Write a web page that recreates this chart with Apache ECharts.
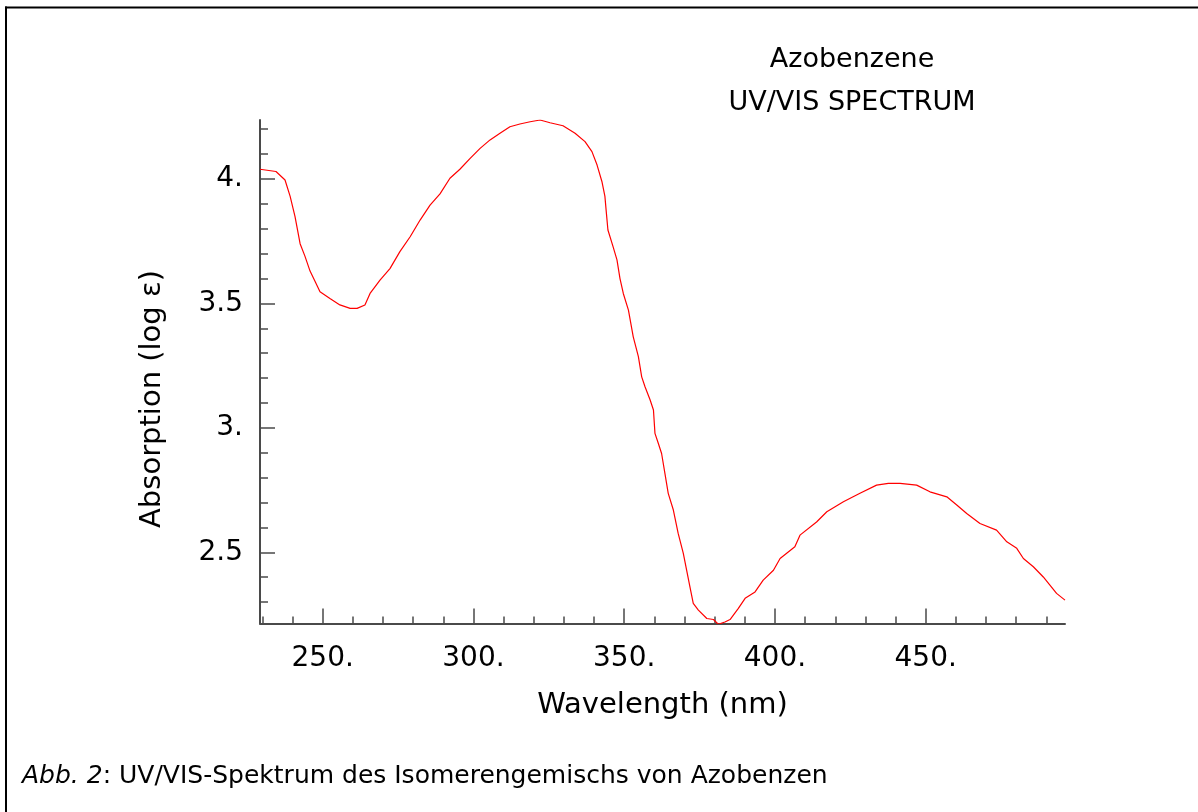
<!DOCTYPE html>
<html>
<head>
<meta charset="utf-8">
<script src="https://cdn.jsdelivr.net/npm/echarts@6/dist/echarts.min.js"></script>
<style>
html,body{margin:0;padding:0;background:#fff;}
#chart{width:1198px;height:812px;}
</style>
</head>
<body>
<div id="chart"></div>
<script>
const wavelength = [229.2,234.5,237.5,239.2,240.8,242.5,244.1,245.8,247.4,249.1,252.4,255.7,259.1,261.4,264.0,265.7,269.0,272.3,275.6,279.0,282.3,285.6,288.9,292.2,295.5,298.9,302.2,305.5,308.8,312.1,315.4,318.8,322.1,325.4,329.7,333.7,337.0,339.3,341.0,342.6,343.6,344.0,344.6,346.3,347.6,348.6,349.7,351.4,353.0,354.7,355.8,356.9,358.6,359.7,360.2,361.3,362.4,363.5,364.6,366.3,367.9,369.6,370.7,371.8,372.9,374.6,377.4,379.6,381.2,383.4,385.1,387.8,390.1,393.4,396.1,399.5,401.7,406.6,408.3,413.8,417.2,422.7,428.2,433.7,437.6,441.5,447.0,451.4,457.0,460.3,463.6,468.0,473.5,476.9,480.2,482.4,485.7,489.0,491.2,493.4,496.2];
const absorbance = [4.039,4.03,3.996,3.93,3.85,3.74,3.69,3.63,3.59,3.547,3.52,3.494,3.48,3.48,3.494,3.54,3.594,3.64,3.708,3.768,3.835,3.895,3.94,4.003,4.039,4.083,4.123,4.157,4.184,4.21,4.221,4.23,4.237,4.226,4.214,4.184,4.15,4.11,4.056,3.99,3.93,3.875,3.795,3.728,3.675,3.6,3.54,3.473,3.366,3.286,3.205,3.165,3.112,3.072,2.978,2.938,2.897,2.817,2.737,2.67,2.576,2.496,2.428,2.361,2.295,2.268,2.234,2.23,2.211,2.22,2.23,2.274,2.315,2.341,2.388,2.428,2.475,2.522,2.569,2.622,2.663,2.703,2.737,2.77,2.777,2.777,2.77,2.743,2.723,2.69,2.656,2.616,2.589,2.542,2.516,2.475,2.442,2.401,2.368,2.335,2.308];
const xMajorTicks = [250,300,350,400,450];
const xMinorTicks = [230,240,260,270,280,290,310,320,330,340,360,370,380,390,410,420,430,440,460,470,480,490];
const yMajorTicks = [2.5,3,3.5,4];
const yMinorTicks = [2.3,2.4,2.6,2.7,2.8,2.9,3.1,3.2,3.3,3.4,3.6,3.7,3.8,3.9,4.1,4.2];
const xRange = [229.2, 496.2];
const yRange = [2.214, 4.237];
const titleText = 'Azobenzene\nUV/VIS SPECTRUM';
const xName = 'Wavelength (nm)';
const yName = 'Absorption (log \u03b5)';
const captionItalic = 'Abb. 2';
const captionRest = ': UV/VIS-Spektrum des Isomerengemischs von Azobenzen';

const FONT = 'DejaVu Sans';
const axisColor = '#4a4a4a';
const fmt = v => Number.isInteger(v) ? v + '.' : String(v);

const chart = echarts.init(document.getElementById('chart'), null, {renderer:'canvas'});
const baseX = {
  type:'value', min:xRange[0], max:xRange[1], position:'bottom',
  splitLine:{show:false}
};
const baseY = {
  type:'value', min:yRange[0], max:yRange[1], position:'left',
  splitLine:{show:false}
};
chart.setOption({
  backgroundColor:'#fff',
  animation:false,
  title:{
    text:titleText, left:847, top:33, textAlign:'center',
    textStyle:{fontFamily:FONT, fontSize:27, fontWeight:'normal', color:'#000', lineHeight:43}
  },
  grid:{left:260, top:120, width:805, height:503.5, containLabel:false},
  xAxis:[
    Object.assign({}, baseX, {
      name:xName, nameLocation:'middle', nameGap:67,
      nameTextStyle:{fontFamily:FONT, fontSize:29, color:'#000'},
      axisLine:{show:true, onZero:false, lineStyle:{color:axisColor, width:2}},
      axisTick:{show:true, inside:true, length:15, customValues:xMajorTicks, lineStyle:{color:axisColor, width:1.5}},
      axisLabel:{show:true, customValues:xMajorTicks, margin:21, formatter:fmt, fontFamily:FONT, fontSize:28, color:'#000'}
    }),
    Object.assign({}, baseX, {
      axisLine:{show:false, onZero:false},
      axisTick:{show:true, inside:true, length:7, customValues:xMinorTicks, lineStyle:{color:axisColor, width:1.5}},
      axisLabel:{show:false}
    })
  ],
  yAxis:[
    Object.assign({}, baseY, {
      axisLine:{show:true, onZero:false, lineStyle:{color:axisColor, width:2}},
      axisTick:{show:true, inside:true, length:15, customValues:yMajorTicks, lineStyle:{color:axisColor, width:1.5}},
      axisLabel:{show:true, customValues:yMajorTicks, margin:17, formatter:fmt, fontFamily:FONT, fontSize:28, color:'#000'}
    }),
    Object.assign({}, baseY, {
      axisLine:{show:false, onZero:false},
      axisTick:{show:true, inside:true, length:8, customValues:yMinorTicks, lineStyle:{color:axisColor, width:1.5}},
      axisLabel:{show:false}
    })
  ],
  series:[{
    type:'line', xAxisIndex:0, yAxisIndex:0,
    data: wavelength.map((w,i)=>[w, absorbance[i]]),
    showSymbol:false, symbol:'none', clip:true,
    lineStyle:{color:'#ff0000', width:1.2},
    z:5
  }],
  graphic:[
    {type:'rect', shape:{x:5, y:6.5, width:1193, height:2}, style:{fill:'#000'}, silent:true},
    {type:'rect', shape:{x:5, y:6.5, width:2, height:806}, style:{fill:'#000'}, silent:true},
    {type:'text', x:152, y:399, rotation:Math.PI/2,
      style:{text:yName, font:'29px "DejaVu Sans"', fill:'#000', textAlign:'center', textVerticalAlign:'middle'}},
    {type:'text', x:22, y:776,
      style:{
        text:'{i|' + captionItalic + '}' + captionRest,
        font:'25px "DejaVu Sans"', fill:'#000', textVerticalAlign:'middle',
        rich:{i:{fontStyle:'italic', fontFamily:FONT, fontSize:25, fill:'#000'}}
      }}
  ]
});
</script>
</body>
</html>
